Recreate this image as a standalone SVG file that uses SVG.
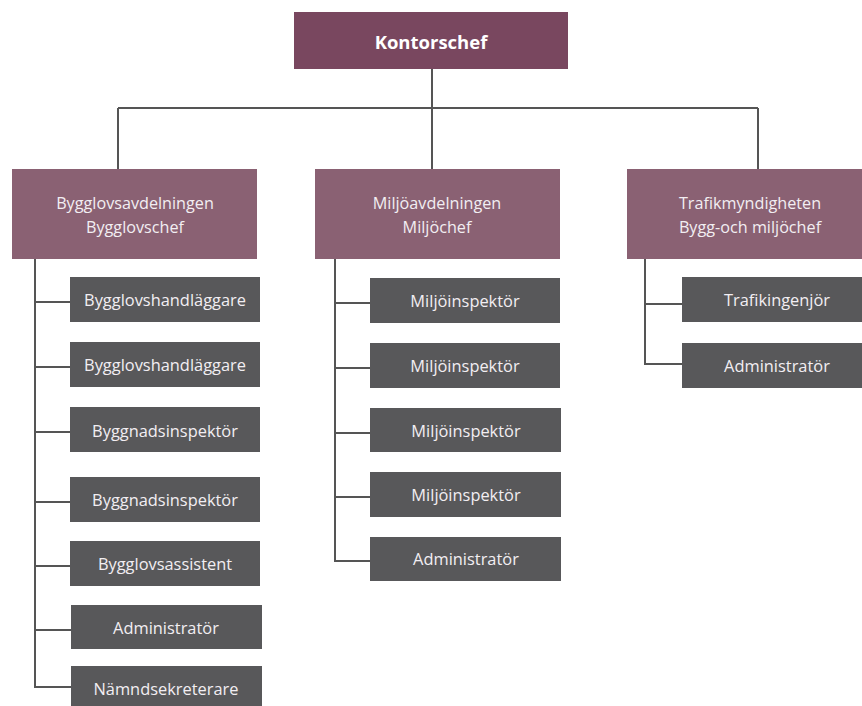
<svg xmlns="http://www.w3.org/2000/svg" width="862" height="706" viewBox="0 0 862 706">
<style>
.top{fill:#79475f}
.dept{fill:#8a6173}
.role{fill:#58585a}
.t{font-family:"Open Sans","Noto Sans",sans-serif;font-size:16.4px;fill:#f2eef2;text-anchor:middle;dominant-baseline:central}
.d{font-size:16.2px}
.tb{font-weight:bold;font-size:18.5px;fill:#ffffff}
.c{fill:none;stroke:#555555;stroke-width:2}
</style>
<rect width="862" height="706" fill="#ffffff"/>
<g id="connectors">
<path class="c" d="M432 69V108M118 108H758M118 108V169M432 108V169M758 108V169"/>
<path class="c" d="M35 259V687H71M35 302H70M35 367H70M35 432H70M35 502H70M35 566H70M35 630H71"/>
<path class="c" d="M335 259V561H370M335 303H370M335 368H370M335 433H370M335 497H370"/>
<path class="c" d="M645 259V364H682M645 304H682"/>
</g>
<g id="kontorschef"><rect class="top" x="294" y="12" width="274" height="57"/><text class="t tb" x="431" y="41">Kontorschef</text></g>
<g id="bygglov"><rect class="dept" x="12" y="169" width="245" height="90"/><text class="t d" x="135" y="203">Bygglovsavdelningen</text><text class="t d" x="135" y="227">Bygglovschef</text></g>
<g id="miljo"><rect class="dept" x="315" y="169" width="245" height="90"/><text class="t d" x="437" y="203">Miljöavdelningen</text><text class="t d" x="437" y="227">Miljöchef</text></g>
<g id="trafik"><rect class="dept" x="627" y="169" width="240" height="90"/><text class="t d" x="750" y="203">Trafikmyndigheten</text><text class="t d" x="750" y="227">Bygg-och miljöchef</text></g>
<g id="b1"><rect class="role" x="70" y="277" width="190" height="45"/><text class="t" x="165" y="299">Bygglovshandläggare</text></g>
<g id="b2"><rect class="role" x="70" y="342" width="190" height="45"/><text class="t" x="165" y="364">Bygglovshandläggare</text></g>
<g id="b3"><rect class="role" x="70" y="407" width="190" height="45"/><text class="t" x="165" y="430">Byggnadsinspektör</text></g>
<g id="b4"><rect class="role" x="70" y="477" width="190" height="45"/><text class="t" x="165" y="499">Byggnadsinspektör</text></g>
<g id="b5"><rect class="role" x="70" y="541" width="190" height="45"/><text class="t" x="165" y="563">Bygglovsassistent</text></g>
<g id="b6"><rect class="role" x="71" y="605" width="191" height="44"/><text class="t" x="166" y="627">Administratör</text></g>
<g id="b7"><rect class="role" x="71" y="666" width="191" height="45"/><text class="t" x="166" y="688">Nämndsekreterare</text></g>
<g id="m1"><rect class="role" x="370" y="278" width="190" height="45"/><text class="t" x="465" y="300">Miljöinspektör</text></g>
<g id="m2"><rect class="role" x="370" y="343" width="190" height="45"/><text class="t" x="465" y="365">Miljöinspektör</text></g>
<g id="m3"><rect class="role" x="370" y="408" width="191" height="44"/><text class="t" x="466" y="430">Miljöinspektör</text></g>
<g id="m4"><rect class="role" x="370" y="472" width="191" height="45"/><text class="t" x="466" y="494">Miljöinspektör</text></g>
<g id="m5"><rect class="role" x="370" y="537" width="191" height="44"/><text class="t" x="466" y="558">Administratör</text></g>
<g id="t1"><rect class="role" x="682" y="277" width="185" height="45"/><text class="t" x="777" y="299">Trafikingenjör</text></g>
<g id="t2"><rect class="role" x="682" y="343" width="185" height="45"/><text class="t" x="777" y="365">Administratör</text></g>
</svg>
